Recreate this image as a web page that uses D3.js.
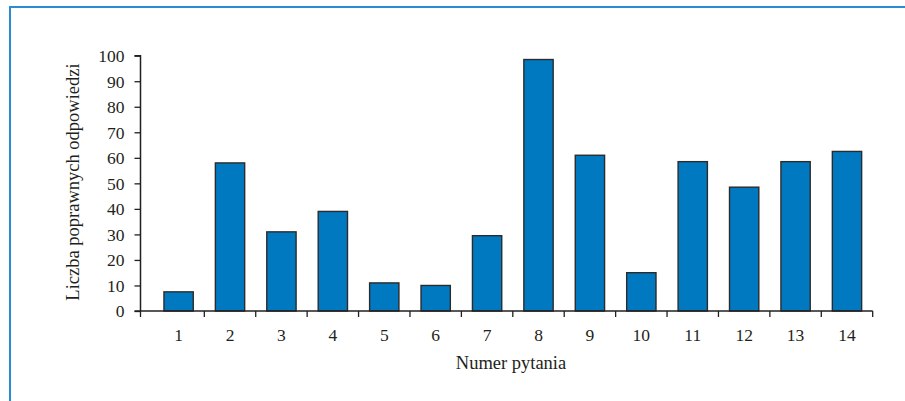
<!DOCTYPE html>
<html>
<head>
<meta charset="utf-8">
<script src="https://cdn.jsdelivr.net/npm/d3@7"></script>
<style>
  html, body { margin: 0; padding: 0; background: #fff; }
  svg { display: block; }
  text { font-family: "Liberation Serif", "DejaVu Serif", serif; fill: #231f20; }
</style>
</head>
<body>
<div id="chart"></div>
<script>
const categories = ["1","2","3","4","5","6","7","8","9","10","11","12","13","14"];
const values = [7.5, 58, 31, 39, 11, 10, 29.5, 98.5, 61, 15, 58.5, 48.5, 58.5, 62.5];
const yTicks = [0,10,20,30,40,50,60,70,80,90,100];
const xTitle = "Numer pytania";
const yTitle = "Liczba poprawnych odpowiedzi";

const W = 905, H = 401;
const svg = d3.select("#chart").append("svg").attr("width", W).attr("height", H);

// frame
svg.append("path")
  .attr("d", `M10,${H} L10,7 L${W},7`)
  .attr("fill", "none").attr("stroke", "#2a8ad4").attr("stroke-width", 2);

const axisX0 = 140.5, bandStart = 152.9, bandEnd = 872.7;
const y0 = 311, y1 = 55.7;

const x = d3.scaleBand().domain(categories).range([bandStart, bandEnd]).paddingInner(0.43).paddingOuter(0.215);
const y = d3.scaleLinear().domain([0, 100]).range([y0, y1]);

// bars
svg.append("g").selectAll("rect").data(values).join("rect")
  .attr("x", (d, i) => x(categories[i]))
  .attr("y", d => y(d))
  .attr("width", x.bandwidth())
  .attr("height", d => y(0) - y(d))
  .attr("fill", "#0079c1")
  .attr("stroke", "#2b2b2b")
  .attr("stroke-width", 1.4);

// y axis
const yAxis = d3.axisLeft(y).tickValues(yTicks).tickSize(6).tickPadding(10).tickFormat(d3.format("d"));
const gy = svg.append("g").attr("transform", `translate(${axisX0},0)`).call(yAxis);
gy.select(".domain").attr("stroke", "#231f20").attr("stroke-width", 1.5).attr("d", `M-6,${y1}H0V${y0}`);
gy.selectAll(".tick line").attr("stroke", "#231f20").attr("stroke-width", 1.3);
gy.selectAll(".tick text").attr("font-size", 17.5).attr("fill", "#231f20").attr("dy", "0.33em");

// x axis
const gx = svg.append("g");
gx.append("line").attr("x1", axisX0 - 6).attr("x2", bandEnd).attr("y1", y0).attr("y2", y0)
  .attr("stroke", "#231f20").attr("stroke-width", 1.5);
const step = x.step();
const boundaries = [axisX0].concat(categories.slice(1).map(c => x(c) - (step - x.bandwidth()) / 2)).concat([bandEnd]);
gx.selectAll("line.tk").data(boundaries).join("line").attr("class", "tk")
  .attr("x1", d => d).attr("x2", d => d).attr("y1", y0).attr("y2", y0 + 6)
  .attr("stroke", "#231f20").attr("stroke-width", 1.3);
gx.selectAll("text").data(categories).join("text")
  .attr("x", d => x(d) + x.bandwidth() / 2)
  .attr("y", 341)
  .attr("text-anchor", "middle")
  .attr("font-size", 17.5)
  .text(d => d);

// titles
svg.append("text").attr("x", 511).attr("y", 369).attr("text-anchor", "middle")
  .attr("font-size", 18.5).text(xTitle);
svg.append("text").attr("transform", `translate(79,${182}) rotate(-90)`)
  .attr("text-anchor", "middle").attr("font-size", 18.5).text(yTitle);
</script>
</body>
</html>
